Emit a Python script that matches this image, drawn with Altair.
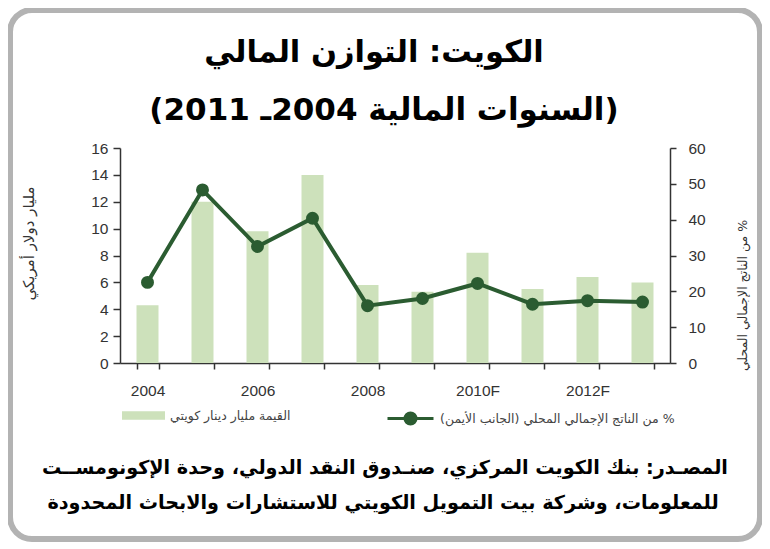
import json
import altair as alt
import pandas as pd

# ---- data ----
years = ['2004', '2005', '2006', '2007', '2008', '2009', '2010F', '2011F', '2012F', '2013F']
x_labels = ['2004', '2006', '2008', '2010F', '2012F']
value_bn = [4.3, 12.0, 9.8, 14.0, 5.8, 5.3, 8.2, 5.5, 6.4, 6.0]
pct_gdp = [22.5, 48.3, 32.5, 40.4, 16.0, 18.0, 22.2, 16.4, 17.4, 17.0]
left_ticks = [0, 2, 4, 6, 8, 10, 12, 14, 16]
right_ticks = [0, 10, 20, 30, 40, 50, 60]

RLE, PDF = '\u202b', '\u202c'
def rtl(s):
    return RLE + s + PDF

bar_name = rtl('القيمة مليار دينار كويتي')
line_name = rtl('% من الناتج الإجمالي المحلي (الجانب الأيمن)')
title_lines = [rtl('الكويت: التوازن المالي'), rtl('(السنوات المالية 2004ـ 2011)')]
source_lines = [rtl('المصـدر: بنك الكويت المركزي، صنـدوق النقد الدولي، وحدة الإكونومســت'),
                rtl('للمعلومات، وشركة بيت التمويل الكويتي للاستشارات والابحاث المحدودة')]
left_title = rtl('مليار دولار أمريكي')
right_title = rtl('% من الناتج الإجمالي المحلي')

bar_color = '#cde1bb'
line_color = '#2b5c31'
axis_color = '#333333'

df = pd.DataFrame({'year': years, 'value': value_bn, 'pct': pct_gdp,
                   'bar_s': [bar_name] * len(years), 'line_s': [line_name] * len(years)})

label_expr = 'indexof(' + json.dumps(x_labels) + ', datum.value) >= 0 ? datum.value : ""'
x_axis = alt.Axis(title=None, labelAngle=0, tickBand='extent', labelExpr=label_expr,
                  labelFont='Liberation Sans', labelFontSize=15.5, labelColor=axis_color,
                  tickSize=6, labelPadding=14, domainColor=axis_color, tickColor=axis_color,
                  domainWidth=1.5, tickWidth=1.5, grid=False)
x_enc = alt.X('year:N', sort=years, scale=alt.Scale(paddingInner=0.6, paddingOuter=0.3), axis=x_axis)

common_axis = dict(labelFont='Liberation Sans', labelFontSize=15.5, labelColor=axis_color,
                   domainColor=axis_color, tickColor=axis_color, domainWidth=1.5, tickWidth=1.5,
                   grid=False, titleFont='DejaVu Sans', titleFontWeight='normal',
                   titleColor=axis_color, titleAngle=270, titleAlign='center', titleBaseline='middle')

bars = alt.Chart(df).mark_bar().encode(
    x=x_enc,
    y=alt.Y('value:Q', scale=alt.Scale(domain=[0, 16], nice=False),
            axis=alt.Axis(orient='left', values=left_ticks, title=left_title, tickSize=7,
                          labelPadding=5, titleX=-92, titleY=95, titleFontSize=15, **common_axis)),
    fill=alt.Fill('bar_s:N', scale=alt.Scale(range=[bar_color]),
                  legend=alt.Legend(title=None, orient='none', legendX=2, legendY=246,
                                    symbolType='M-1,-0.2H1V0.2H-1Z', symbolSize=1849,
                                    symbolStrokeWidth=0, labelFont='DejaVu Sans', labelFontSize=12.5,
                                    labelColor='#444444', labelLimit=400, labelOffset=5)),
)

line = alt.Chart(df).mark_line(
    strokeWidth=4,
    point=alt.OverlayMarkDef(filled=True, size=120, fill=line_color, stroke=line_color)
).encode(
    x=x_enc,
    y=alt.Y('pct:Q', scale=alt.Scale(domain=[0, 60], nice=False),
            axis=alt.Axis(orient='right', values=right_ticks, title=right_title, tickSize=6,
                          labelPadding=12, titleX=72, titleY=147, titleFontSize=12.5, **common_axis)),
    stroke=alt.Stroke('line_s:N', scale=alt.Scale(range=[line_color]),
                      legend=alt.Legend(title=None, orient='none', legendX=266, legendY=246,
                                        symbolType='M-1,0H1M0.24,0A0.24,0.24 0 1,1 -0.24,0A0.24,0.24 0 1,1 0.24,0',
                                        symbolSize=2116, symbolStrokeWidth=3,
                                        symbolFillColor=line_color, labelFont='DejaVu Sans',
                                        labelFontSize=12.5, labelColor='#444444', labelLimit=400,
                                        labelOffset=5)),
)

def text_layer(s, x, y, size):
    return alt.Chart(pd.DataFrame({'t': [s]})).mark_text(
        font='DejaVu Sans', fontWeight='bold', fontSize=size, color='black',
        align='center', baseline='alphabetic'
    ).encode(text='t:N', x=alt.value(x), y=alt.value(y))

border = alt.Chart(pd.DataFrame({'a': [0]})).mark_rect(
    filled=False, stroke='#b3b3b3', strokeWidth=6, cornerRadius=22
).encode(x=alt.value(-110), x2=alt.value(640), y=alt.value(-138), y2=alt.value(391))

chart = alt.layer(
    border, bars, line,
    text_layer(title_lines[0], 254, -86, 30.5),
    text_layer(title_lines[1], 264, -28, 31),
    text_layer(source_lines[0], 265, 326, 19.2),
    text_layer(source_lines[1], 263, 361, 19.2),
).resolve_scale(y='independent').properties(
    width=550, height=215,
    padding={'left': 112, 'top': 140, 'right': 92, 'bottom': 182},
    autosize=alt.AutoSizeParams(type='none'),
    background='white'
).configure_view(stroke=None)

chart.save('out.html', embed_options={'renderer': 'svg', 'actions': False})
